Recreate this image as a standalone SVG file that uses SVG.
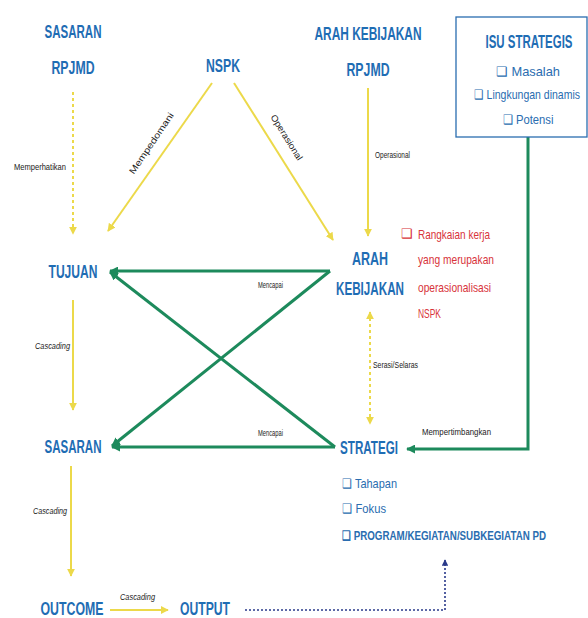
<svg xmlns="http://www.w3.org/2000/svg" width="588" height="618" viewBox="0 0 588 618">
<style>
.h{font-family:"Liberation Sans",sans-serif;font-weight:bold;fill:#1f6db4;font-size:19px;text-anchor:middle}
.s{font-family:"Liberation Sans",sans-serif;font-size:9px;fill:#222}
.li{font-family:"Liberation Sans",sans-serif;font-size:13px;fill:#2a6db0}
.red{font-family:"Liberation Sans",sans-serif;font-size:13px;fill:#d8333a}
.y{stroke:#ecd94a;stroke-width:2;fill:none}
.yd{stroke:#ecd94a;stroke-width:2;fill:none;stroke-dasharray:3 3}
.g{stroke:#1d8a5c;stroke-width:3;fill:none}
.bx{fill:none;stroke:#2a6db0;stroke-width:1.3}
</style>
<defs>
<marker id="ay" viewBox="0 0 10 10" refX="9" refY="5" markerWidth="4" markerHeight="4" orient="auto-start-reverse"><path d="M0,0L10,5L0,10z" fill="#ecd94a"/></marker>
<marker id="ag" viewBox="0 0 10 10" refX="9" refY="5" markerWidth="3" markerHeight="3" orient="auto"><path d="M0,0L10,5L0,10z" fill="#1d8a5c"/></marker>
<marker id="an" viewBox="0 0 10 10" refX="9" refY="5" markerWidth="4" markerHeight="4" orient="auto"><path d="M0,0L10,5L0,10z" fill="#2a3a8a"/></marker>
</defs>
<rect width="588" height="618" fill="#fff"/>
<g id="connectors">
<line class="yd" x1="73" y1="92" x2="73" y2="234" marker-end="url(#ay)"/>
<line class="y" x1="212" y1="83" x2="108" y2="231" marker-end="url(#ay)"/>
<line class="y" x1="234" y1="83" x2="333" y2="240" marker-end="url(#ay)"/>
<line class="y" x1="368" y1="88" x2="368" y2="236" marker-end="url(#ay)"/>
<line class="y" x1="73" y1="300" x2="73" y2="410" marker-end="url(#ay)"/>
<line class="yd" x1="370" y1="312" x2="370" y2="424" marker-start="url(#ay)" marker-end="url(#ay)"/>
<line class="y" x1="71" y1="466" x2="71" y2="576" marker-end="url(#ay)"/>
<line class="y" x1="110" y1="610" x2="168" y2="610" marker-end="url(#ay)"/>
<line class="g" x1="330" y1="271" x2="110" y2="271" marker-end="url(#ag)"/>
<line class="g" x1="330" y1="271" x2="112" y2="446" marker-end="url(#ag)"/>
<line class="g" x1="335" y1="447" x2="112" y2="447" marker-end="url(#ag)"/>
<line class="g" x1="335" y1="447" x2="110" y2="272" marker-end="url(#ag)"/>
<polyline class="g" points="528,137 528,449 407,449" marker-end="url(#ag)" stroke-width="2.5"/>
<polyline points="245,610 445,610 445,560" fill="none" stroke="#2a3a8a" stroke-width="1.6" stroke-dasharray="2 2" marker-end="url(#an)"/>
<text class="s" x="14" y="170" textLength="52" lengthAdjust="spacingAndGlyphs">Memperhatikan</text>
<text class="s" transform="translate(154,145) rotate(-56)" text-anchor="middle" textLength="72" lengthAdjust="spacingAndGlyphs">Mempedomani</text>
<text class="s" transform="translate(284,139) rotate(58)" text-anchor="middle" textLength="52" lengthAdjust="spacingAndGlyphs">Operasional</text>
<text class="s" x="375" y="158" textLength="35" lengthAdjust="spacingAndGlyphs">Operasional</text>
<text class="s" x="258" y="288" textLength="25" lengthAdjust="spacingAndGlyphs">Mencapai</text>
<text class="s" x="258" y="436" textLength="25" lengthAdjust="spacingAndGlyphs">Mencapai</text>
<text class="s" x="35" y="349" font-style="italic" textLength="35" lengthAdjust="spacingAndGlyphs">Cascading</text>
<text class="s" x="373" y="368" textLength="45" lengthAdjust="spacingAndGlyphs">Serasi/Selaras</text>
<text class="s" x="422" y="435" textLength="69" lengthAdjust="spacingAndGlyphs">Mempertimbangkan</text>
<text class="s" x="33" y="514" font-style="italic" fill="#555" textLength="34" lengthAdjust="spacingAndGlyphs">Cascading</text>
<text class="s" x="120" y="600" font-style="italic" fill="#555" textLength="35" lengthAdjust="spacingAndGlyphs">Cascading</text>
</g>
<g id="sasaran-rpjmd"><text class="h" x="73" y="38" textLength="57" lengthAdjust="spacingAndGlyphs">SASARAN</text><text class="h" x="73" y="74" textLength="43" lengthAdjust="spacingAndGlyphs">RPJMD</text></g>
<g id="nspk"><text class="h" x="223" y="72" textLength="34" lengthAdjust="spacingAndGlyphs">NSPK</text></g>
<g id="arah-rpjmd"><text class="h" x="368" y="40" textLength="107" lengthAdjust="spacingAndGlyphs">ARAH KEBIJAKAN</text><text class="h" x="368" y="76" textLength="43" lengthAdjust="spacingAndGlyphs">RPJMD</text></g>
<g id="isu">
<rect class="bx" x="456" y="17" width="131" height="120"/>
<text class="h" x="529" y="48" textLength="87" lengthAdjust="spacingAndGlyphs">ISU STRATEGIS</text>
<text class="li" x="528" y="76" text-anchor="middle" textLength="64" lengthAdjust="spacingAndGlyphs">❑ Masalah</text>
<text class="li" x="527" y="99" text-anchor="middle" textLength="106" lengthAdjust="spacingAndGlyphs">❑ Lingkungan dinamis</text>
<text class="li" x="528" y="124" text-anchor="middle" textLength="51" lengthAdjust="spacingAndGlyphs">❑ Potensi</text>
</g>
<g id="tujuan"><text class="h" x="73" y="278" textLength="49" lengthAdjust="spacingAndGlyphs">TUJUAN</text></g>
<g id="arah"><text class="h" x="370" y="265" textLength="36" lengthAdjust="spacingAndGlyphs">ARAH</text><text class="h" x="370" y="295" textLength="68" lengthAdjust="spacingAndGlyphs">KEBIJAKAN</text></g>
<g id="note">
<text class="red" x="401" y="238">❑</text>
<text class="red" x="418" y="239" textLength="72" lengthAdjust="spacingAndGlyphs">Rangkaian kerja</text>
<text class="red" x="418" y="264" textLength="76" lengthAdjust="spacingAndGlyphs">yang merupakan</text>
<text class="red" x="418" y="292" textLength="73" lengthAdjust="spacingAndGlyphs">operasionalisasi</text>
<text class="red" x="418" y="318" textLength="23" lengthAdjust="spacingAndGlyphs">NSPK</text>
</g>
<g id="sasaran"><text class="h" x="73" y="453" textLength="57" lengthAdjust="spacingAndGlyphs">SASARAN</text></g>
<g id="strategi">
<text class="h" x="369" y="454" textLength="58" lengthAdjust="spacingAndGlyphs">STRATEGI</text>
<text class="li" x="342" y="488" textLength="55" lengthAdjust="spacingAndGlyphs">❑ Tahapan</text>
<text class="li" x="342" y="513" textLength="44" lengthAdjust="spacingAndGlyphs">❑ Fokus</text>
<text class="li" x="342" y="540" font-weight="bold" textLength="204" lengthAdjust="spacingAndGlyphs">❑ PROGRAM/KEGIATAN/SUBKEGIATAN PD</text>
</g>
<g id="outcome"><text class="h" x="72" y="615" textLength="63" lengthAdjust="spacingAndGlyphs">OUTCOME</text></g>
<g id="output"><text class="h" x="205" y="615" textLength="50" lengthAdjust="spacingAndGlyphs">OUTPUT</text></g>
</svg>
